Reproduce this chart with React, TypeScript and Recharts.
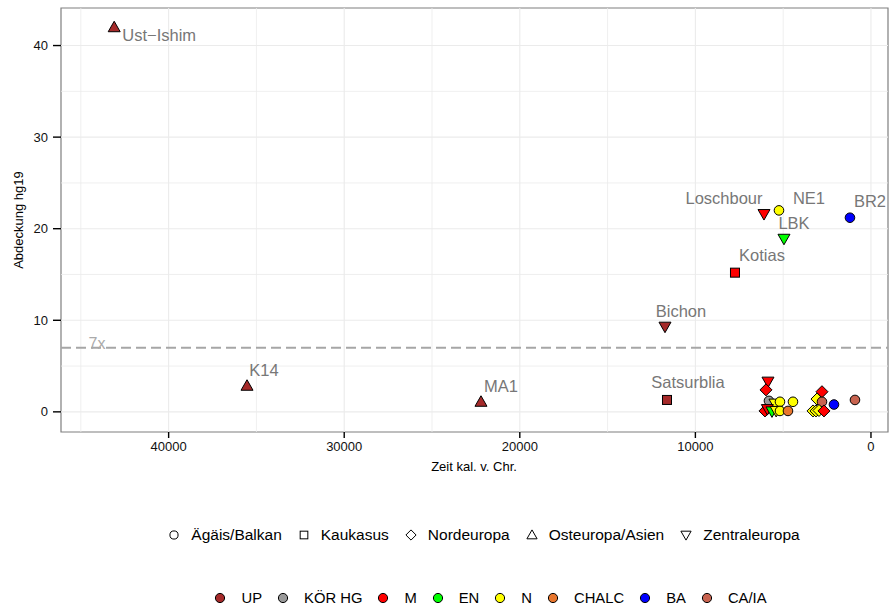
import React from 'react';
import { ScatterChart, Scatter, XAxis, YAxis, ReferenceLine, ReferenceArea, ReferenceDot } from 'recharts';

// categories
const PERIODS = ['UP', 'KÖR HG', 'M', 'EN', 'N', 'CHALC', 'BA', 'CA/IA'];
const REGIONS = ['Ägäis/Balkan', 'Kaukasus', 'Nordeuropa', 'Osteuropa/Asien', 'Zentraleuropa'];

// samples (years cal. BC, coverage on hg19)
const sampleNames = [
  '', '', '', '', '', '', '', '', '', '', '', '',
  '', '', '', '', '', '', '', '', '',
  'Ust−Ishim', 'K14', 'MA1', 'Satsurblia', 'Bichon', 'Kotias', 'Loschbour', 'NE1', 'LBK', 'BR2',
];
const samplePeriods = [
  'M', 'M', 'KÖR HG', 'N', 'N', 'N', 'M', 'M', 'EN', 'N', 'N', 'CHALC',
  'M', 'N', 'CA/IA', 'N', 'N', 'N', 'M', 'BA', 'CA/IA',
  'UP', 'UP', 'UP', 'UP', 'UP', 'M', 'M', 'N', 'EN', 'BA',
];
const sampleRegions = [
  'Zentraleuropa', 'Nordeuropa', 'Ägäis/Balkan', 'Zentraleuropa', 'Ägäis/Balkan', 'Ägäis/Balkan',
  'Nordeuropa', 'Zentraleuropa', 'Zentraleuropa', 'Zentraleuropa', 'Ägäis/Balkan', 'Ägäis/Balkan',
  'Nordeuropa', 'Nordeuropa', 'Ägäis/Balkan', 'Nordeuropa', 'Nordeuropa', 'Nordeuropa', 'Nordeuropa',
  'Ägäis/Balkan', 'Ägäis/Balkan',
  'Osteuropa/Asien', 'Osteuropa/Asien', 'Osteuropa/Asien', 'Kaukasus', 'Zentraleuropa', 'Kaukasus',
  'Zentraleuropa', 'Ägäis/Balkan', 'Zentraleuropa', 'Ägäis/Balkan',
];
const sampleAge = [
  5866, 5980, 5809, 5467, 5182, 4442, 6036, 5900, 5638, 5400, 5182, 4727,
  2790, 3075, 2790, 3300, 3130, 2960, 2676, 2107, 911,
  43100, 35535, 22210, 11617, 11731, 7745, 6093, 5239, 4954, 1196,
];
const sampleCoverage = [
  3.3, 2.4, 1.2, 0.9, 1.1, 1.1, 0.1, 0.3, 0.05, 0.1, 0.1, 0.1,
  2.2, 1.4, 1.1, 0.1, 0.1, 0.15, 0.1, 0.8, 1.3,
  42.0, 2.85, 1.1, 1.3, 9.3, 15.2, 21.6, 22.0, 18.9, 21.2,
];

const xTicks = [0, 10000, 20000, 30000, 40000];
const xMinor = [5000, 15000, 25000, 35000, 45000];
const yTicks = [0, 10, 20, 30, 40];
const yMinor = [5, 15, 25, 35];
const coverageThreshold = 7;

const samples = sampleAge.map((x, i) => ({
  x,
  y: sampleCoverage[i],
  name: sampleNames[i],
  period: samplePeriods[i],
  region: sampleRegions[i],
}));

// styles
const FONT = '"Liberation Sans", Arial, Helvetica, sans-serif';
const X_DOMAIN: [number, number] = [-970, 46130];
const Y_DOMAIN: [number, number] = [-2.2, 44.1];
const GRID = '#ebebeb';

const PERIOD_COLORS: Record<string, string> = {
  UP: '#A52A2A',
  'KÖR HG': '#999999',
  M: '#FF0000',
  EN: '#00FF00',
  N: '#FFFF00',
  CHALC: '#E8762D',
  BA: '#0000FF',
  'CA/IA': '#C8634F',
};

// label offsets from point centre (px)
const LABEL_POS: Record<string, [number, number]> = {
  'Ust−Ishim': [45, 8],
  K14: [17, -16],
  MA1: [20, -16],
  Satsurblia: [21, -18],
  Bichon: [16, -16],
  Kotias: [27, -18],
  Loschbour: [-40, -16],
  NE1: [30, -12],
  LBK: [10, -16],
  BR2: [20, -17],
};

function symbol(region: string, cx: number, cy: number, fill: string, stroke: string, k = 1) {
  switch (region) {
    case 'Kaukasus':
      return <rect x={cx - 4.5 * k} y={cy - 4.5 * k} width={9 * k} height={9 * k} fill={fill} stroke={stroke} strokeWidth={1} />;
    case 'Nordeuropa':
      return (
        <polygon
          points={`${cx},${cy - 6 * k} ${cx + 6 * k},${cy} ${cx},${cy + 6 * k} ${cx - 6 * k},${cy}`}
          fill={fill} stroke={stroke} strokeWidth={1}
        />
      );
    case 'Osteuropa/Asien':
      return (
        <polygon
          points={`${cx},${cy - 6 * k} ${cx + 6 * k},${cy + 4.5 * k} ${cx - 6 * k},${cy + 4.5 * k}`}
          fill={fill} stroke={stroke} strokeWidth={1}
        />
      );
    case 'Zentraleuropa':
      return (
        <polygon
          points={`${cx},${cy + 6 * k} ${cx + 6 * k},${cy - 4.5 * k} ${cx - 6 * k},${cy - 4.5 * k}`}
          fill={fill} stroke={stroke} strokeWidth={1}
        />
      );
    default:
      return <circle cx={cx} cy={cy} r={4.8 * k} fill={fill} stroke={stroke} strokeWidth={1} />;
  }
}

function Marker(props: any) {
  const { cx, cy, payload } = props;
  if (cx == null || cy == null) return null;
  const pos = LABEL_POS[payload.name];
  return (
    <g>
      {symbol(payload.region, cx, cy, PERIOD_COLORS[payload.period], '#000')}
      {payload.name && pos && (
        <text
          x={cx + pos[0]}
          y={cy + pos[1]}
          textAnchor="middle"
          dominantBaseline="central"
          fontFamily={FONT}
          fontSize={16.5}
          fill="#777777"
        >
          {payload.name}
        </text>
      )}
    </g>
  );
}

function ThresholdLabel(props: any) {
  const { cx, cy } = props;
  if (cx == null || cy == null) return null;
  return (
    <text x={cx} y={cy + 1} textAnchor="middle" fontFamily={FONT} fontSize={16} fill="#aaaaaa">
      7x
    </text>
  );
}

function LegendItem({ label, gap, after, children }: { label: string; gap: number; after: number; children: React.ReactNode }) {
  return (
    <div style={{ display: 'flex', alignItems: 'center', marginRight: after }}>
      <svg width={14} height={14} style={{ marginRight: gap }}>
        {children}
      </svg>
      <span>{label}</span>
    </div>
  );
}

const rowStyle: React.CSSProperties = {
  position: 'absolute',
  left: 0,
  height: 20,
  display: 'flex',
  justifyContent: 'center',
  alignItems: 'center',
  fontFamily: FONT,
  color: '#000',
};

export default function App() {
  return (
    <div style={{ position: 'absolute', left: 0, top: 0, width: 893, height: 610, background: '#fff' }}>
      <ScatterChart width={893} height={610} margin={{ top: 8, right: 5, bottom: 128, left: 0 }}>
        <XAxis
          type="number"
          dataKey="x"
          domain={X_DOMAIN}
          allowDataOverflow
          reversed
          ticks={xTicks}
          tickSize={6}
          tickMargin={4}
          axisLine={false}
          tickLine={{ stroke: '#000', strokeWidth: 1.4 }}
          tick={{ fill: '#111', fontSize: 13, fontFamily: FONT }}
          height={50}
        />
        <YAxis
          type="number"
          dataKey="y"
          domain={Y_DOMAIN}
          allowDataOverflow
          ticks={yTicks}
          tickSize={8}
          tickMargin={5}
          axisLine={false}
          tickLine={{ stroke: '#000', strokeWidth: 1.4 }}
          tick={{ fill: '#111', fontSize: 13, fontFamily: FONT }}
          width={61}
        />
        {xMinor.map((v) => (
          <ReferenceLine key={`xm${v}`} x={v} stroke={GRID} strokeWidth={0.8} />
        ))}
        {yMinor.map((v) => (
          <ReferenceLine key={`ym${v}`} y={v} stroke={GRID} strokeWidth={0.8} />
        ))}
        {xTicks.map((v) => (
          <ReferenceLine key={`x${v}`} x={v} stroke={GRID} strokeWidth={1.1} />
        ))}
        {yTicks.map((v) => (
          <ReferenceLine key={`y${v}`} y={v} stroke={GRID} strokeWidth={1.1} />
        ))}
        <ReferenceLine y={coverageThreshold} stroke="#a6a6a6" strokeWidth={1.8} strokeDasharray="10 5" />
        <ReferenceDot x={44077} y={coverageThreshold} r={0} shape={ThresholdLabel} />
        <ReferenceArea
          x1={X_DOMAIN[0]}
          x2={X_DOMAIN[1]}
          y1={Y_DOMAIN[0]}
          y2={Y_DOMAIN[1]}
          fill="none"
          fillOpacity={0}
          stroke="#7f7f7f"
          strokeWidth={1.2}
        />
        <Scatter data={samples} shape={Marker} isAnimationActive={false} />
      </ScatterChart>

      <svg width={893} height={610} style={{ position: 'absolute', left: 0, top: 0, pointerEvents: 'none' }}>
        <text x={474} y={466} textAnchor="middle" dominantBaseline="central" fontFamily={FONT} fontSize={13} fill="#000">
          Zeit kal. v. Chr.
        </text>
        <text
          x={18}
          y={220}
          transform="rotate(-90 18 220)"
          textAnchor="middle"
          dominantBaseline="central"
          fontFamily={FONT}
          fontSize={13}
          fill="#000"
        >
          Abdeckung hg19
        </text>
      </svg>

      <div style={{ ...rowStyle, top: 525, width: 982, fontSize: 15.5 }}>
        {REGIONS.map((r) => (
          <LegendItem key={r} label={r} gap={10} after={15}>
            {symbol(r, 7, 7, 'none', '#000', 0.85)}
          </LegendItem>
        ))}
      </div>
      <div style={{ ...rowStyle, top: 588, width: 994, fontSize: 14.8 }}>
        {PERIODS.map((p) => (
          <LegendItem key={p} label={p} gap={14} after={14}>
            <circle cx={7} cy={7} r={4.6} fill={PERIOD_COLORS[p]} stroke="#000" strokeWidth={1} />
          </LegendItem>
        ))}
      </div>
    </div>
  );
}
